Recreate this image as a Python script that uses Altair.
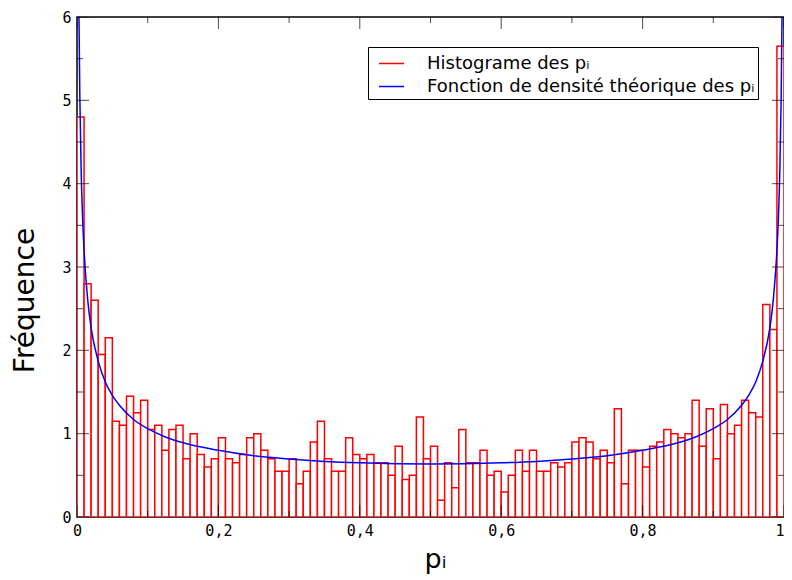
import altair as alt
import pandas as pd

# ---- data ----
bin_width = 0.01
freq = [
    4.8, 2.8, 2.6, 1.95, 2.15, 1.15, 1.1, 1.45, 1.25, 1.4,
    1.05, 1.1, 0.8, 1.05, 1.1, 0.7, 1.0, 0.75, 0.6, 0.7,
    0.95, 0.7, 0.65, 0.75, 0.95, 1.0, 0.8, 0.7, 0.55, 0.55,
    0.7, 0.4, 0.55, 0.9, 1.15, 0.7, 0.55, 0.55, 0.95, 0.75,
    0.7, 0.75, 0.65, 0.65, 0.5, 0.85, 0.45, 0.5, 1.2, 0.7,
    0.85, 0.2, 0.65, 0.35, 1.05, 0.65, 0.65, 0.8, 0.5, 0.55,
    0.3, 0.5, 0.8, 0.55, 0.8, 0.55, 0.55, 0.65, 0.6, 0.65,
    0.9, 0.95, 0.9, 0.7, 0.8, 0.65, 1.3, 0.4, 0.8, 0.8,
    0.6, 0.85, 0.9, 1.05, 1.0, 0.95, 1.0, 1.4, 0.85, 1.3,
    0.7, 1.35, 1.0, 1.1, 1.4, 1.25, 1.2, 2.55, 2.25, 5.65,
]
curve_x = [0.0028, 0.004, 0.006, 0.008, 0.01, 0.015, 0.02, 0.03, 0.04, 0.05,
           0.06, 0.08, 0.10, 0.125, 0.15, 0.20, 0.25, 0.30, 0.35, 0.40,
           0.45, 0.50, 0.55, 0.60, 0.65, 0.70, 0.75, 0.80, 0.85, 0.875,
           0.90, 0.92, 0.94, 0.95, 0.96, 0.97, 0.98, 0.985, 0.99, 0.992,
           0.994, 0.996, 0.9972]
curve_y = [6.0, 5.04, 4.12, 3.57, 3.20, 2.62, 2.27, 1.87, 1.62, 1.46,
           1.34, 1.17, 1.06, 0.96, 0.89, 0.80, 0.735, 0.695, 0.667, 0.65,
           0.64, 0.637, 0.64, 0.65, 0.667, 0.695, 0.735, 0.80, 0.89, 0.96,
           1.06, 1.17, 1.34, 1.46, 1.62, 1.87, 2.27, 2.62, 3.20, 3.57,
           4.12, 5.04, 6.0]
x_label_vals = [0, 0.2, 0.4, 0.6, 0.8, 1]
y_label_vals = [0, 1, 2, 3, 4, 5, 6]
x_tick_vals = [0, 0.1, 0.2, 0.3, 0.4, 0.5, 0.6, 0.7, 0.8, 0.9, 1.0]
x_tick_major = [1, 0, 1, 0, 1, 0, 1, 0, 1, 0, 1]
y_tick_vals = [0, 0.5, 1, 1.5, 2, 2.5, 3, 3.5, 4, 4.5, 5, 5.5, 6]
y_tick_major = [1, 0, 1, 0, 1, 0, 1, 0, 1, 0, 1, 0, 1]
lab_hist = "Histograme des pᵢ"
lab_dens = "Fonction de densité théorique des pᵢ"

W, H = 707, 500
FONT = "DejaVu Sans"
MONO = "DejaVu Sans Mono"

bars = pd.DataFrame({
    "lo": [i * bin_width for i in range(len(freq))],
    "hi": [(i + 1) * bin_width for i in range(len(freq))],
    "freq": freq,
    "serie": lab_hist,
})
curve = pd.DataFrame({"x": curve_x, "y": curve_y, "serie": lab_dens})
xt = pd.DataFrame({"v": x_tick_vals, "len": [24 if m else 12 for m in x_tick_major]})
yt = pd.DataFrame({"v": y_tick_vals, "len": [24 if m else 12 for m in y_tick_major]})

xscale = alt.Scale(domain=[0, 1], nice=False, zero=False)
yscale = alt.Scale(domain=[0, 6], nice=False)
cscale = alt.Scale(domain=[lab_hist, lab_dens], range=["#ff0000", "#0000ff"])

legend = alt.Legend(
    title=None, orient="none", legendX=291, legendY=30,
    symbolType="stroke", symbolSize=625, symbolStrokeWidth=1.5,
    symbolOffset=7, labelOffset=22,
    labelFont=FONT, labelFontSize=18, labelColor="black",
    strokeColor="black", fillColor="white", padding=3, rowPadding=0,
    labelLimit=600,
)

x_axis = alt.Axis(
    values=x_label_vals, ticks=False, domain=False, grid=False,
    labelExpr="replace(format(datum.value, '~g'), '.', ',')",
    labelFont=MONO, labelFontSize=15, labelColor="black", labelPadding=6,
    labelFlush=False,
    labelAlign={"condition": {"test": "datum.value >= 1", "value": "right"}, "value": "center"},
    title="pᵢ", titleFont=FONT, titleFontSize=27, titleFontWeight="normal",
    titleColor="black", titleX=358, titleY=50, titleBaseline="alphabetic",
    titleAlign="center",
)
y_axis = alt.Axis(
    values=y_label_vals, ticks=False, domain=False, grid=False, format="d",
    labelFont=MONO, labelFontSize=15, labelColor="black", labelPadding=6,
    labelFlush=False,
    title="Fréquence", titleFont=FONT, titleFontSize=28, titleFontWeight="normal",
    titleColor="black", titleX=-44, titleY=283, titleBaseline="alphabetic",
    titleAlign="center",
)

hist = alt.Chart(bars).mark_bar(fill="white", strokeWidth=1.5, clip=True).encode(
    x=alt.X("lo:Q", scale=xscale, axis=x_axis),
    x2="hi:Q",
    y=alt.Y("freq:Q", scale=yscale, axis=y_axis),
    y2=alt.datum(0),
    stroke=alt.Stroke("serie:N", scale=cscale, legend=legend),
)

line = alt.Chart(curve).mark_line(strokeWidth=1.5, clip=True, interpolate="monotone").encode(
    x=alt.X("x:Q", scale=xscale),
    y=alt.Y("y:Q", scale=yscale),
    stroke=alt.Stroke("serie:N", scale=cscale, legend=legend),
)

def xticks(ypix):
    return alt.Chart(xt).mark_tick(orient="vertical", color="black", thickness=1, clip=True).encode(
        x=alt.X("v:Q", scale=xscale),
        y=alt.value(ypix),
        size=alt.Size("len:Q", scale=None, legend=None),
    )

def yticks(xpix):
    return alt.Chart(yt).mark_tick(orient="horizontal", color="black", thickness=1, clip=True).encode(
        y=alt.Y("v:Q", scale=yscale),
        x=alt.value(xpix),
        size=alt.Size("len:Q", scale=None, legend=None),
    )

chart = alt.layer(
    hist, line, xticks(0), xticks(H), yticks(0), yticks(W)
).properties(
    width=W, height=H,
    autosize=alt.AutoSizeParams(type="none"),
    padding={"left": 69, "top": 9, "right": 0, "bottom": 63},
    background="white",
).configure_view(stroke="black", strokeWidth=1.5)

chart.save("out.html", embed_options={"renderer": "svg", "actions": False})
